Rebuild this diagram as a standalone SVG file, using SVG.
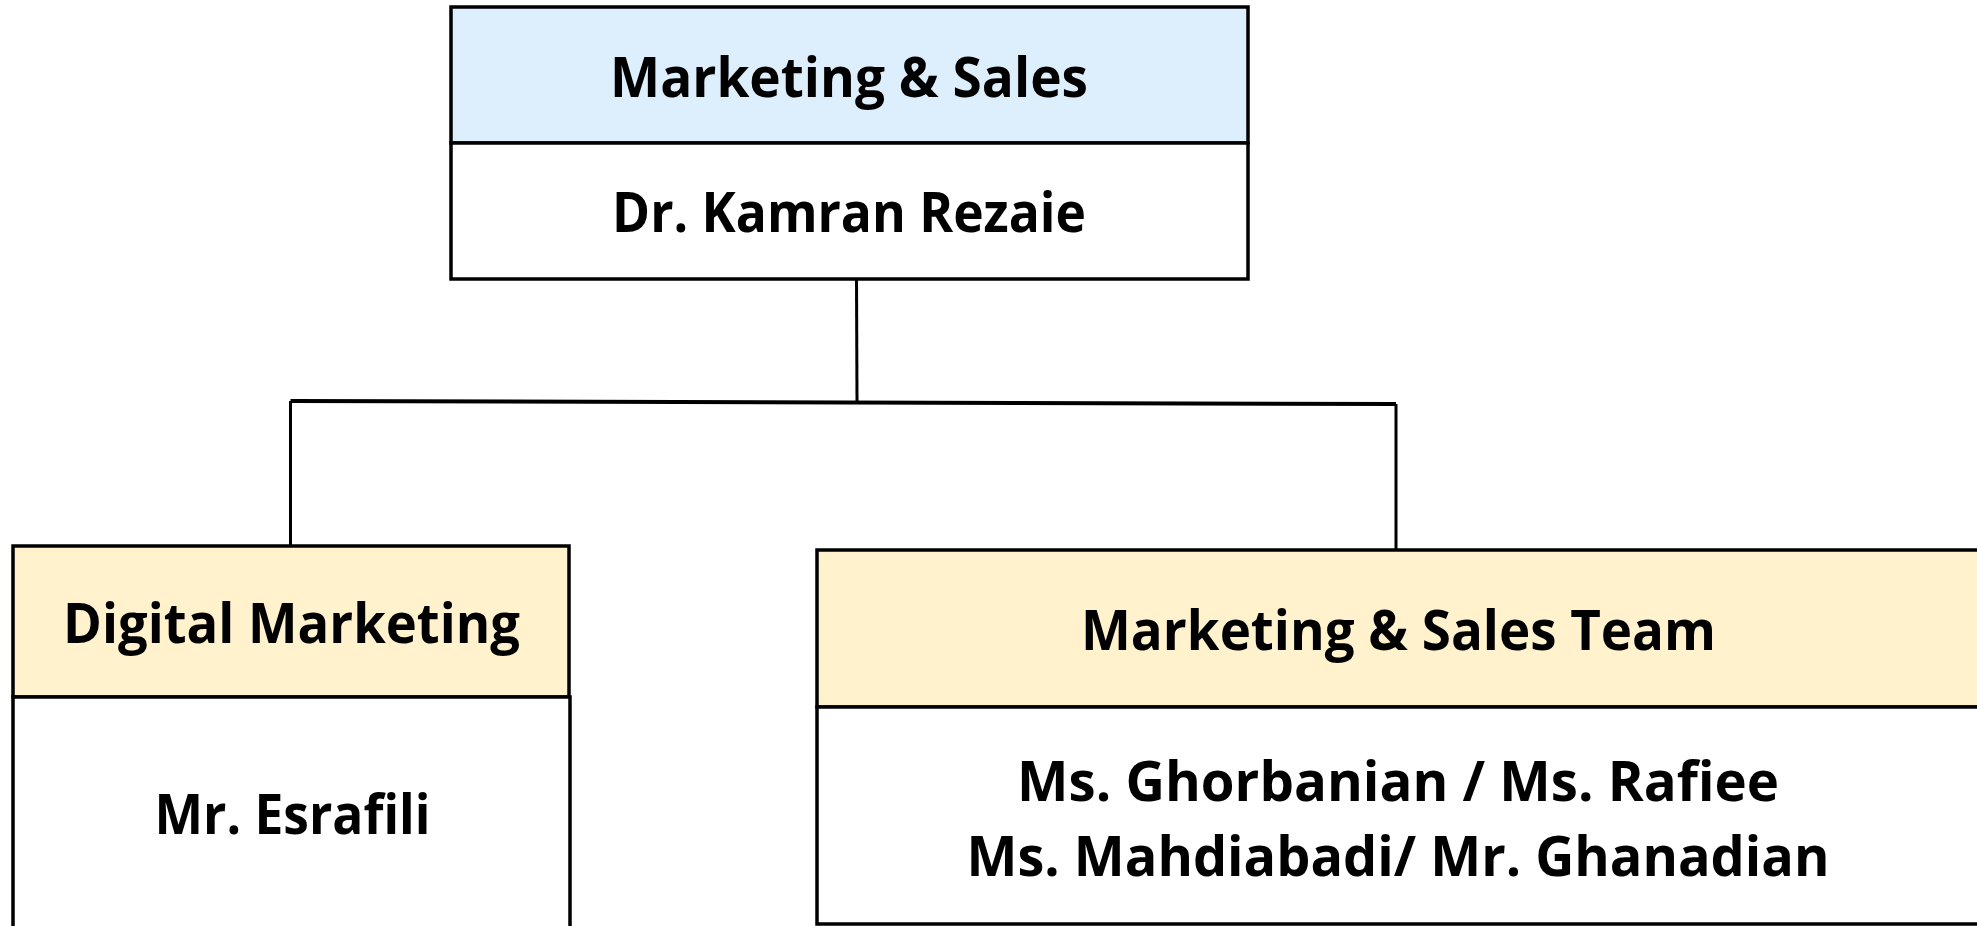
<svg xmlns="http://www.w3.org/2000/svg" width="1977" height="926" viewBox="0 0 1977 926">
<style>
.box{stroke:#000;stroke-width:3.5}
.blue{fill:#DDEEFC}
.yel{fill:#FFF2CC}
.wht{fill:#FFFFFF}
.t{font-family:"Open Sans","Noto Sans","Liberation Sans",sans-serif;font-weight:bold;font-size:56px;fill:#000;text-anchor:middle}
.c{stroke:#000;stroke-width:3;fill:none}
</style>
<rect width="1977" height="926" fill="#FFFFFF"/>
<g id="connectors">
<line class="c" x1="856.5" y1="279" x2="857" y2="402"/>
<line class="c" x1="290.5" y1="401" x2="1396" y2="404" style="stroke-width:4"/>
<line class="c" x1="290.5" y1="401" x2="290.5" y2="546"/>
<line class="c" x1="1396" y1="404" x2="1396" y2="550"/>
</g>
<g id="node-marketing-sales">
<rect class="box blue" x="451" y="7" width="797" height="136"/>
<rect class="box wht" x="451" y="143" width="797" height="136"/>
<text class="t" x="849" y="97" font-size="59" textLength="478" lengthAdjust="spacingAndGlyphs">Marketing &amp; Sales</text>
<text class="t" x="849" y="232" font-size="59" textLength="474" lengthAdjust="spacingAndGlyphs">Dr. Kamran Rezaie</text>
</g>
<g id="node-digital-marketing">
<rect class="box yel" x="13" y="546" width="556" height="151"/>
<rect class="box wht" x="13" y="697" width="557" height="245"/>
<text class="t" x="291.5" y="643" textLength="457" lengthAdjust="spacingAndGlyphs">Digital Marketing</text>
<text class="t" x="292.5" y="834" textLength="276" lengthAdjust="spacingAndGlyphs">Mr. Esrafili</text>
</g>
<g id="node-team">
<rect class="box yel" x="817" y="550" width="1170" height="157"/>
<rect class="box wht" x="817" y="707" width="1170" height="217"/>
<text class="t" x="1398.5" y="650" textLength="635" lengthAdjust="spacingAndGlyphs">Marketing &amp; Sales Team</text>
<text class="t" x="1398" y="801" textLength="762" lengthAdjust="spacingAndGlyphs">Ms. Ghorbanian / Ms. Rafiee</text>
<text class="t" x="1398" y="876" textLength="863" lengthAdjust="spacingAndGlyphs">Ms. Mahdiabadi/ Mr. Ghanadian</text>
</g>
</svg>
